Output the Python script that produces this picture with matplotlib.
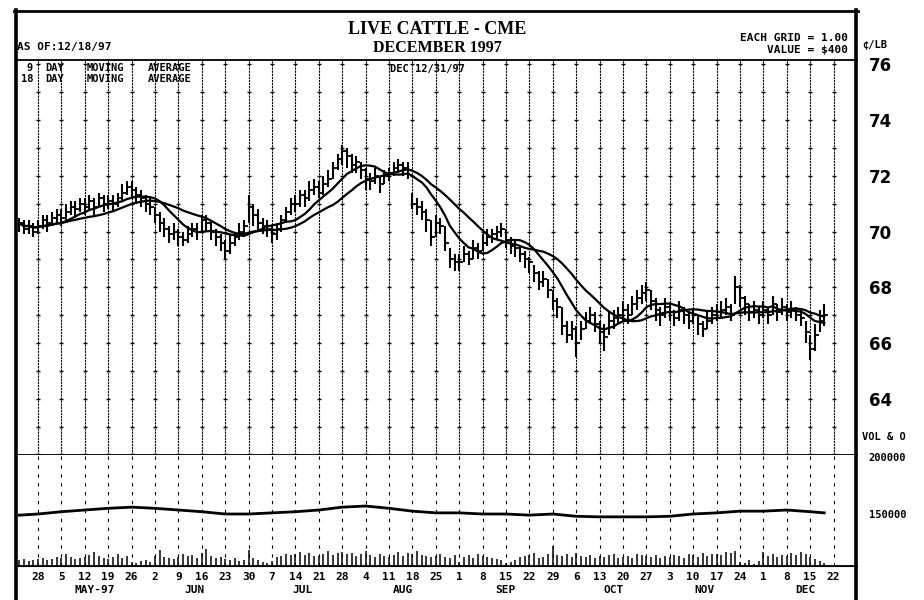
import matplotlib
matplotlib.use("Agg")
import matplotlib.pyplot as plt
import matplotlib.transforms as mtransforms
from matplotlib.lines import Line2D
import numpy as np
import pandas as pd

plt.rcParams['font.family'] = ['DejaVu Sans']
MONO = 'DejaVu Sans Mono'

# daily bars, one row per week (first row Apr 22-25, last row Dec 15-18 1997), cents/lb
highs = [
    [70.5, 70.4, 70.4, 70.3],
    [70.4, 70.6, 70.6, 70.7, 70.8], [70.8, 71.0, 71.1, 71.1, 71.2], [71.2, 71.3, 71.2, 71.4, 71.3],
    [71.3, 71.3, 71.4, 71.7, 71.8], [71.8, 71.6, 71.5, 71.3, 71.2], [70.9, 70.7, 70.5, 70.2, 70.3],
    [70.1, 70.0, 70.2, 70.3, 70.3], [70.6, 70.6, 70.4, 70.1, 69.9], [69.7, 69.9, 70.0, 70.3, 70.4],
    [71.3, 71.0, 70.8, 70.5, 70.4], [70.2, 70.3, 70.6, 70.9, 71.2], [71.3, 71.5, 71.5, 71.8, 71.9],
    [71.8, 72.0, 72.2, 72.5, 72.8], [73.1, 73.0, 72.8, 72.7, 72.5], [72.3, 72.1, 72.3, 72.0, 72.2],
    [72.3, 72.5, 72.6, 72.5, 72.5], [71.4, 71.2, 71.1, 70.8, 70.4], [70.6, 70.5, 70.2, 69.4, 69.2],
    [69.2, 69.5, 69.3, 69.7, 69.6], [69.9, 70.1, 70.1, 70.2, 70.3], [70.1, 69.8, 69.7, 69.5, 69.3],
    [69.1, 68.8, 68.6, 68.6, 68.3], [67.9, 67.6, 67.3, 66.8, 66.8], [66.6, 66.8, 67.1, 67.3, 67.1],
    [66.8, 66.7, 67.1, 67.2, 67.3], [67.5, 67.4, 67.7, 67.9, 68.1], [68.2, 67.9, 67.6, 67.3, 67.6],
    [67.4, 67.2, 67.5, 67.3, 67.1], [67.2, 67.0, 66.8, 67.1, 67.3], [67.4, 67.5, 67.6, 67.4, 68.4],
    [68.1, 67.7, 67.4, 67.5, 67.3], [67.5, 67.3, 67.7, 67.4, 67.6], [67.4, 67.5, 67.3, 67.2, 66.8],
    [66.3, 66.7, 67.2, 67.4],
]
lows = [
    [70.0, 69.9, 69.9, 69.8],
    [69.9, 70.1, 70.0, 70.2, 70.3], [70.2, 70.4, 70.6, 70.5, 70.7], [70.6, 70.8, 70.6, 70.9, 70.7],
    [70.8, 70.7, 70.9, 71.1, 71.3], [71.2, 71.0, 70.9, 70.7, 70.6], [70.3, 70.0, 69.8, 69.6, 69.7],
    [69.5, 69.5, 69.6, 69.8, 69.7], [70.0, 70.0, 69.7, 69.5, 69.3], [69.0, 69.2, 69.5, 69.7, 69.9],
    [70.3, 70.2, 70.0, 69.9, 69.8], [69.6, 69.7, 70.0, 70.3, 70.6], [70.7, 70.9, 70.9, 71.1, 71.3],
    [71.2, 71.3, 71.6, 71.9, 72.2], [72.4, 72.3, 72.1, 72.1, 71.9], [71.5, 71.5, 71.7, 71.4, 71.7],
    [71.8, 72.0, 72.1, 72.0, 71.9], [70.8, 70.6, 70.4, 70.0, 69.5], [69.8, 69.9, 69.3, 68.7, 68.6],
    [68.6, 68.9, 68.8, 69.0, 69.0], [69.3, 69.5, 69.6, 69.7, 69.8], [69.4, 69.2, 69.1, 68.9, 68.7],
    [68.5, 68.2, 67.9, 68.0, 67.6], [67.2, 66.9, 66.3, 66.0, 66.1], [65.5, 66.1, 66.5, 66.7, 66.4],
    [66.0, 65.7, 66.3, 66.5, 66.7], [66.8, 66.7, 67.0, 67.2, 67.4], [67.5, 67.2, 66.8, 66.6, 66.9],
    [66.8, 66.6, 66.8, 66.7, 66.5], [66.7, 66.3, 66.2, 66.5, 66.7], [66.8, 66.9, 67.0, 66.8, 67.4],
    [67.3, 67.0, 66.8, 66.9, 66.7], [66.9, 66.7, 67.0, 66.8, 67.0], [66.8, 66.9, 66.8, 66.6, 66.0],
    [65.4, 65.7, 66.4, 66.6],
]
closes = [
    [70.3, 70.1, 70.2, 70.0],
    [70.2, 70.4, 70.3, 70.5, 70.6], [70.5, 70.7, 70.9, 70.8, 71.0], [70.9, 71.1, 70.9, 71.2, 71.0],
    [71.1, 71.0, 71.2, 71.4, 71.6], [71.5, 71.3, 71.2, 71.0, 70.9], [70.6, 70.3, 70.1, 69.9, 70.0],
    [69.8, 69.7, 69.9, 70.1, 70.0], [70.4, 70.3, 70.0, 69.8, 69.6], [69.3, 69.6, 69.8, 70.0, 70.2],
    [70.9, 70.6, 70.3, 70.2, 70.1], [69.9, 70.1, 70.4, 70.7, 71.0], [71.0, 71.3, 71.2, 71.5, 71.6],
    [71.4, 71.7, 71.9, 72.3, 72.6], [72.9, 72.7, 72.4, 72.5, 72.2], [71.9, 71.8, 72.0, 71.7, 72.0],
    [72.1, 72.3, 72.4, 72.3, 72.2], [71.0, 70.9, 70.7, 70.4, 69.8], [70.3, 70.2, 69.6, 69.0, 68.9],
    [68.9, 69.2, 69.0, 69.4, 69.3], [69.6, 69.8, 69.9, 70.0, 70.1], [69.7, 69.5, 69.4, 69.2, 69.0],
    [68.9, 68.5, 68.2, 68.3, 67.9], [67.5, 67.3, 66.6, 66.3, 66.5], [66.0, 66.5, 66.8, 67.0, 66.7],
    [66.4, 66.2, 66.8, 66.9, 67.0], [67.2, 67.0, 67.4, 67.6, 67.8], [67.9, 67.5, 67.2, 67.0, 67.3],
    [67.1, 66.9, 67.2, 67.0, 66.8], [67.0, 66.7, 66.5, 66.8, 67.0], [67.1, 67.2, 67.3, 67.0, 68.0],
    [67.6, 67.4, 67.1, 67.2, 67.0], [67.2, 67.0, 67.4, 67.1, 67.3], [67.1, 67.2, 67.0, 66.9, 66.4],
    [65.8, 66.3, 66.8, 67.0],
]
# daily volume, thousands of contracts
volume_k = [
    [6, 7, 5, 6],
    [7, 8, 6, 7, 9], [8, 12, 9, 7, 8], [9, 11, 14, 10, 8], [7, 9, 12, 8, 10], [4, 3, 5, 6, 4],
    [10, 16, 9, 8, 7], [9, 12, 10, 11, 8], [13, 17, 10, 8, 9], [7, 6, 8, 5, 6], [16, 8, 6, 4, 3],
    [5, 9, 10, 12, 11], [12, 14, 11, 13, 10], [10, 12, 15, 11, 13], [14, 12, 13, 10, 12],
    [15, 11, 9, 12, 10], [9, 11, 14, 10, 13], [12, 15, 11, 10, 9], [10, 12, 9, 8, 11],
    [4, 9, 11, 8, 12], [10, 9, 8, 7, 6], [3, 4, 6, 9, 10], [11, 13, 8, 9, 12], [20, 11, 10, 12, 9],
    [13, 10, 9, 11, 8], [10, 9, 11, 12, 8], [9, 10, 8, 12, 11], [10, 9, 11, 8, 10],
    [9, 11, 10, 8, 12], [11, 9, 13, 10, 12], [12, 11, 14, 13, 15], [4, 3, 6, 2, 5],
    [14, 10, 12, 9, 11], [10, 13, 11, 14, 12], [9, 7, 5, 3],
]
# open interest, thousands of contracts (first day, each Monday, last day)
open_interest_k = [149, 150, 152, 153.5, 155, 156, 155, 153.5, 152, 150, 150, 151, 152,
                   153.5, 156, 157, 155, 152.5, 151, 151, 150, 150, 149, 150, 148, 147.5,
                   147.5, 147.5, 148, 150, 151, 152.5, 152.5, 153.5, 152, 151]

week_labels = ['28', '5', '12', '19', '26', '2', '9', '16', '23', '30', '7', '14', '21', '28',
               '4', '11', '18', '25', '1', '8', '15', '22', '29', '6', '13', '20', '27',
               '3', '10', '17', '24', '1', '8', '15', '22']
months = ['MAY-97', 'JUN', 'JUL', 'AUG', 'SEP', 'OCT', 'NOV', 'DEC']
month_pos = [12.2, 33.5, 56.6, 78, 99.8, 122.9, 142.5, 163.9]
price_ticks = [64, 66, 68, 70, 72, 74, 76]

hi = np.concatenate([np.array(r) for r in highs])
lo = np.concatenate([np.array(r) for r in lows])
cl = np.concatenate([np.array(r) for r in closes])
vol = np.concatenate([np.array(r) for r in volume_k])
days = np.arange(-4, -4 + len(cl))          # trading-day index, 0 = Mon Apr 28
weeks = np.arange(len(week_labels)) * 5
oi_days = np.concatenate([[days[0]], weeks[:34], [days[-1]]])

ma9 = pd.Series(cl).rolling(9, min_periods=1).mean()
ma18 = pd.Series(cl).rolling(18, min_periods=1).mean()

W, H = 924, 600
fig = plt.figure(figsize=(W / 100, H / 100), dpi=100)
ax = fig.add_axes([16 / W, 1 - 455 / H, 841 / W, 395 / H])
axv = fig.add_axes([16 / W, 1 - 566 / H, 841 / W, 111 / H])
axvol = axv.twinx()

xlim = (-4.7, 175.0)
ax.set_xlim(*xlim)
ax.set_ylim(61.98, 76.16)

# weekly grid with a tick at every cent
ax.vlines(weeks, 61.98, 76.16, colors='black', linestyles=(0, (2, 0.8)), lw=0.8)
gx, gy = np.meshgrid(weeks, np.arange(62, 77))
ax.plot(gx.ravel(), gy.ravel(), ls='none', marker='_', ms=3, mew=1.0, color='black')

# price bars + moving averages
ax.vlines(days, lo, hi, colors='black', lw=1.5)
ax.plot(days, cl, ls='none', marker=1, ms=3, mew=1.3, color='black')
ax.plot(days, ma9, color='black', lw=1.6)
ax.plot(days, ma18, color='black', lw=1.6)

ax.set_xticks([])
ax.set_yticks(price_ticks)
ax.set_yticklabels([str(t) for t in price_ticks], fontweight='bold', fontsize=12)
ax.tick_params(axis='y', left=False, right=False, labelleft=False, labelright=True, pad=5)
for s in ['left', 'right']:
    ax.spines[s].set_visible(False)
ax.spines['top'].set_linewidth(1.3)
ax.spines['bottom'].set_linewidth(1.3)

# volume / open interest panel
axv.set_xlim(*xlim)
axvol.set_xlim(*xlim)
axv.set_ylim(104.4, 201.75)
axvol.set_ylim(0, 111)
axv.vlines(weeks, 104.4, 201.75, colors='black', linestyles=(0, (3, 5)), lw=0.8)
axv.plot(oi_days, open_interest_k, color='black', lw=2.0)
axvol.vlines(days, 0, vol, colors='black', lw=1.1)

axv.set_xticks(weeks)
axv.set_xticklabels(week_labels, fontsize=8, fontweight='bold', family=MONO)
axv.tick_params(axis='x', length=0, pad=4)
axv.set_yticks([150, 200])
axv.set_yticklabels(['150000', '200000'], fontsize=7.5, fontweight='bold', family=MONO)
axv.tick_params(axis='y', left=False, right=False, labelleft=False, labelright=True, pad=5)
axvol.set_yticks([])
for a in (axv, axvol):
    a.spines['left'].set_visible(False)
    a.spines['right'].set_visible(False)
    a.spines['top'].set_visible(False)
axv.spines['bottom'].set_linewidth(1.3)

tr = mtransforms.blended_transform_factory(axv.transData, axv.transAxes)
for m, p in zip(months, month_pos):
    axv.text(p, -0.22, m, transform=tr, ha='center', va='center', fontsize=8,
             fontweight='bold', family=MONO)

# frame
fig.add_artist(Line2D([15.5 / W, 15.5 / W], [1 - 10 / H, 0], color='black', lw=2.6))
fig.add_artist(Line2D([856 / W, 856 / W], [1 - 10 / H, 0], color='black', lw=2.6))
fig.add_artist(Line2D([14 / W, 858 / W], [1 - 11 / H, 1 - 11 / H], color='black', lw=2.0))

# header text
fig.text(437 / W, 1 - 30 / H, 'LIVE CATTLE - CME', ha='center', va='center', fontsize=13,
         fontweight='bold', family='Liberation Serif')
fig.text(437 / W, 1 - 48 / H, 'DECEMBER 1997', ha='center', va='center', fontsize=11.5,
         fontweight='bold', family='Liberation Serif')
fig.text(17 / W, 1 - 47 / H, 'AS OF:12/18/97', ha='left', va='center', fontsize=8,
         fontweight='bold', family=MONO)
fig.text(848 / W, 1 - 38 / H, 'EACH GRID = 1.00', ha='right', va='center', fontsize=8,
         fontweight='bold', family=MONO)
fig.text(848 / W, 1 - 50 / H, 'VALUE = $400', ha='right', va='center', fontsize=8,
         fontweight='bold', family=MONO)
fig.text(862 / W, 1 - 45 / H, '¢/LB', ha='left', va='center', fontsize=7.5,
         fontweight='bold', family=MONO)
fig.text(862 / W, 1 - 437 / H, 'VOL & O', ha='left', va='center', fontsize=7.5,
         fontweight='bold', family=MONO)

# moving average legend
for row_y, n in [(68, '9'), (79, '18')]:
    fig.text(33 / W, 1 - row_y / H, n, ha='right', va='center', fontsize=7.5, fontweight='bold', family=MONO)
    fig.text(45 / W, 1 - row_y / H, 'DAY', ha='left', va='center', fontsize=7.5, fontweight='bold', family=MONO)
    fig.text(87 / W, 1 - row_y / H, 'MOVING', ha='left', va='center', fontsize=7.5, fontweight='bold', family=MONO)
    fig.text(148 / W, 1 - row_y / H, 'AVERAGE', ha='left', va='center', fontsize=7.5, fontweight='bold', family=MONO)
fig.text(390 / W, 1 - 69 / H, 'DEC 12/31/97', ha='left', va='center', fontsize=7.5,
         fontweight='bold', family=MONO)

fig.savefig('out.png', dpi=100)
